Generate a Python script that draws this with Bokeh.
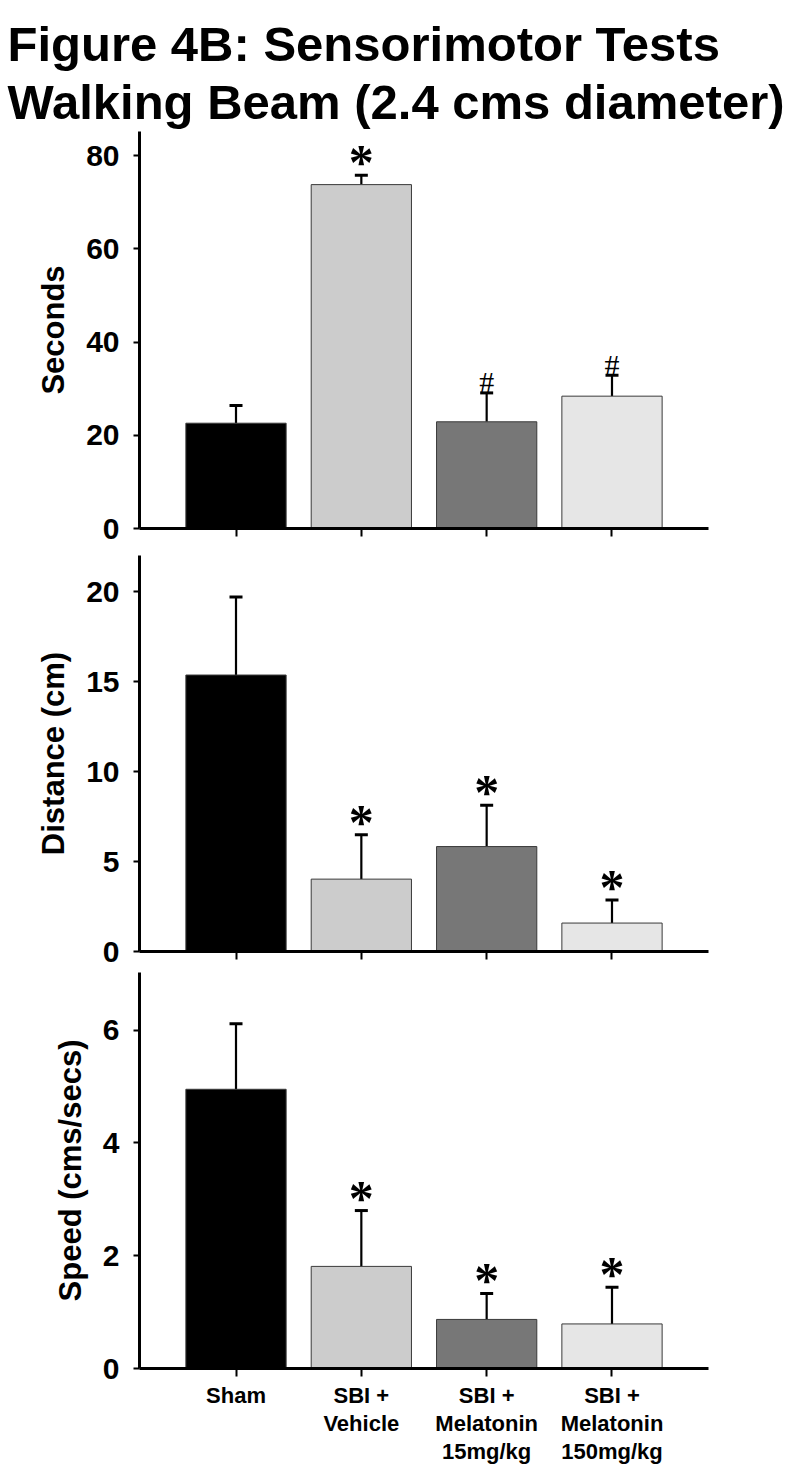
from bokeh.plotting import figure
from bokeh.layouts import column
from bokeh.models import Title, FixedTicker, Range1d, ColumnDataSource, Whisker
from bokeh.core.properties import value
from bokeh.embed import file_html
from bokeh.resources import INLINE

# ---- data ----
groups = ["Sham", "SBI +\nVehicle", "SBI +\nMelatonin\n15mg/kg", "SBI +\nMelatonin\n150mg/kg"]
colors = ["#000000", "#cccccc", "#777777", "#e6e6e6"]

seconds_mean = [22.6, 73.8, 22.9, 28.4]
seconds_err = [3.8, 2.0, 6.2, 4.5]
seconds_marks = ["", "*", "#", "#"]
seconds_ticks = [0, 20, 40, 60, 80]

distance_mean = [15.36, 4.02, 5.83, 1.58]
distance_err = [4.34, 2.47, 2.29, 1.28]
distance_marks = ["", "*", "*", "*"]
distance_ticks = [0, 5, 10, 15, 20]

speed_mean = [4.95, 1.81, 0.87, 0.79]
speed_err = [1.16, 0.99, 0.46, 0.65]
speed_marks = ["", "*", "*", "*"]
speed_ticks = [0, 2, 4, 6]

FONT = "'Liberation Sans', Arial, sans-serif"
SERIF = "'Liberation Serif', 'DejaVu Serif', serif"

TOTAL_W = 800


def panel(means, errs, marks, ticks, ymax, ylabel, top_border, bottom_border,
          show_labels=False, left=139, frame_h=396):
    xs = list(range(len(means)))
    tops = [m + e for m, e in zip(means, errs)]
    src = ColumnDataSource(dict(x=xs, top=means, upper=tops, color=colors,
                                star=[m if m == "*" else "" for m in marks],
                                hash=[m if m == "#" else "" for m in marks]))
    p = figure(frame_width=569, frame_height=frame_h,
               x_range=Range1d(-0.77, 3.77), y_range=Range1d(0, ymax),
               output_backend="svg", toolbar_location=None,
               min_border_left=left, min_border_right=TOTAL_W - 569 - left,
               min_border_top=top_border, min_border_bottom=bottom_border)
    p.outline_line_color = None
    p.grid.visible = False
    p.background_fill_color = "white"

    p.vbar(x="x", top="top", width=0.8, bottom=0, source=src,
           fill_color="color", line_color="#3a3a3a", line_width=1)
    w = Whisker(base="x", lower="top", upper="upper", source=src,
                line_color="black", line_width=2.2, lower_head=None)
    w.upper_head.size = 13
    w.upper_head.line_width = 3
    p.add_layout(w)

    p.text(x="x", y="upper", text="star", source=src,
           text_font=value(SERIF), text_font_style="bold",
           text_font_size="50px", text_align="center",
           text_baseline="alphabetic", y_offset=-13, text_color="black")
    p.text(x="x", y="upper", text="hash", source=src,
           text_font=value(SERIF), text_font_style="normal",
           text_font_size="30px", text_align="center",
           text_baseline="alphabetic", y_offset=-11, text_color="black")

    # x axis
    xa = p.xaxis[0]
    xa.ticker = FixedTicker(ticks=xs)
    xa.axis_line_width = 3
    xa.major_tick_line_width = 2
    xa.major_tick_out = 8
    xa.major_tick_in = 0
    xa.minor_tick_line_color = None
    if show_labels:
        xa.major_label_overrides = {i: g for i, g in enumerate(groups)}
        xa.major_label_text_font = FONT
        xa.major_label_text_font_style = "bold"
        xa.major_label_text_font_size = "22px"
        xa.major_label_text_line_height = 1.12
        xa.major_label_standoff = 6
        xa.major_label_text_color = "black"
    else:
        xa.major_label_overrides = {i: "" for i in xs}
        xa.major_label_text_font_size = "1px"

    # y axis
    ya = p.yaxis[0]
    ya.ticker = FixedTicker(ticks=ticks)
    ya.axis_line_width = 3
    ya.major_tick_line_width = 2
    ya.major_tick_out = 6
    ya.major_tick_in = 0
    ya.minor_tick_line_color = None
    ya.major_label_text_font = FONT
    ya.major_label_text_font_style = "bold"
    ya.major_label_text_font_size = "30px"
    ya.major_label_text_color = "black"
    ya.major_label_standoff = 14
    ya.axis_label = ylabel
    ya.axis_label_text_font = FONT
    ya.axis_label_text_font_style = "bold"
    ya.axis_label_text_font_size = "31px"
    ya.axis_label_text_color = "black"
    ya.axis_label_standoff = 12
    return p


p1 = panel(seconds_mean, seconds_err, seconds_marks, seconds_ticks, 85.2,
           "Seconds", 131, 18, frame_h=397)
p2 = panel(distance_mean, distance_err, distance_marks, distance_ticks, 22.0,
           "Distance (cm)", 9, 18)
p3 = panel(speed_mean, speed_err, speed_marks, speed_ticks, 7.02,
           "Speed (cms/secs)", 3, 100, show_labels=True, left=136)

t = Title(text="Figure 4B: Sensorimotor Tests\nWalking Beam (2.4 cms diameter)",
          align="left", offset=-132, text_font=FONT, text_font_style="bold",
          text_font_size="49px", text_color="black", text_line_height=1.08,
          standoff=4)
p1.add_layout(t, "above")

layout = column(p1, p2, p3, spacing=0)
open("out.html", "w").write(file_html(layout, INLINE))
